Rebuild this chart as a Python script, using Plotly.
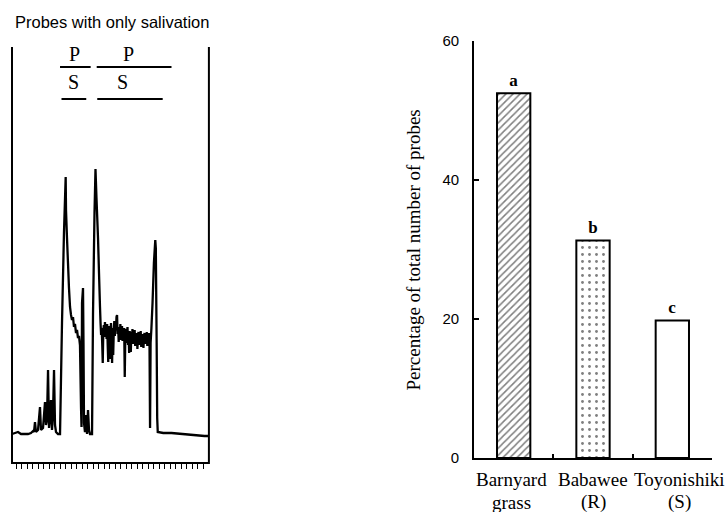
import plotly.graph_objects as go

# ---------------- Left panel: recorded waveform ----------------
# time in s (1 tick = 1 s), signal in arbitrary units (0 = bottom of record)
trace_time = [
    0.00, 0.55, 1.09, 1.64, 2.36, 2.91, 3.45, 3.82, 4.00, 4.18, 4.36, 4.73, 5.09, 5.27,
    5.64, 6.00, 6.18, 6.36, 6.55, 6.73, 6.91, 7.09, 7.27, 7.45, 7.64, 7.82, 8.00, 8.36, 8.73,
    9.09, 9.45, 9.76, 9.82, 10.00, 10.18, 10.36, 10.55, 10.73, 10.91, 11.09, 11.27, 11.45,
    11.64, 11.82, 12.00, 12.18, 12.36, 12.55, 12.64, 12.73, 12.91, 13.00, 13.09, 13.27,
    13.45, 13.64, 13.82, 14.00, 14.18, 14.55,
    14.73, 15.00, 15.18, 15.36, 15.64, 15.82, 16.00,
    16.1, 16.2, 16.3, 16.4, 16.5, 16.6, 16.7, 16.8, 16.9, 17.0,
    17.1, 17.2, 17.3, 17.4, 17.5, 17.6, 17.7, 17.8, 17.9, 18.0,
    18.1, 18.2, 18.3, 18.4, 18.5, 18.6, 18.7, 18.8, 18.9, 19.0,
    19.1, 19.2, 19.3, 19.4, 19.5, 19.6, 19.7, 19.8, 19.9, 20.0,
    20.1, 20.2, 20.3, 20.4, 20.5, 20.6, 20.7, 20.8, 20.9, 21.0,
    21.1, 21.2, 21.3, 21.4, 21.5, 21.6, 21.7, 21.8, 21.9, 22.0,
    22.1, 22.2, 22.3, 22.4, 22.5, 22.6, 22.7, 22.8, 22.9, 23.0,
    23.1, 23.2, 23.3, 23.4, 23.5, 23.6, 23.7, 23.8, 23.9, 24.0,
    24.1, 24.2, 24.3, 24.4, 24.5, 24.6, 24.7, 24.8, 24.9, 25.0,
    25.1, 25.2, 25.35, 25.55, 25.8, 26.05, 26.15, 26.3, 26.4, 26.5,
    27.5, 29.0, 31.0, 33.0, 35.0, 35.8,
]
trace_signal = [
    29, 30, 31, 29, 29, 29, 30, 32, 31, 41, 31, 33, 56, 33,
    35, 61, 38, 43, 93, 35, 45, 63, 33, 48, 93, 38, 31, 29, 29,
    140, 230, 286, 253, 225, 200, 175, 156, 148, 143, 146, 136, 139,
    130, 133, 125, 127, 118, 55, 36, 160, 175, 120, 40, 31,
    48, 29, 53, 33, 29, 29,
    150, 250, 294, 265, 225, 190, 156,
    140, 128, 135, 120, 100, 132, 138, 126, 141, 130,
    136, 124, 139, 118, 101, 128, 137, 104, 129, 140,
    126, 100, 135, 108, 131, 142, 127, 138, 133, 146,
    148, 129, 136, 121, 134, 127, 139, 123, 131, 137,
    122, 133, 128, 135, 86, 126, 134, 120, 130, 136,
    118, 129, 110, 132, 124, 111, 131, 122, 134, 119,
    128, 124, 133, 117, 127, 121, 130, 114, 126, 131,
    118, 128, 122, 132, 116, 127, 121, 129, 115, 126,
    130, 119, 127, 122, 131, 117, 128, 123, 130, 120,
    35, 120, 135, 160, 200, 223, 215, 120, 45, 31,
    30, 30, 29, 28, 27, 27,
]

record_start = 0.0
record_end = 35.8
full_scale = 416
time_ticks = [0.73 + k for k in range(35)]

# phase bars (P = probing, S = salivation)
phase_names = ["P", "P", "S", "S"]
phase_start = [8.73, 15.4, 9.0, 15.5]
phase_end = [14.3, 29.0, 13.5, 27.4]
phase_level = [396, 396, 364, 364]
phase_label_time = [11.45, 21.2, 11.2, 20.1]
phase_label_level = [409, 409, 381, 381]

# ---------------- Right panel: bar chart ----------------
cat_line1 = ["Barnyard", "Babawee", "Toyonishiki"]
cat_line2 = ["grass", "(R)", "(S)"]
percent_probes = [52.5, 31.3, 19.8]
sig_letters = ["a", "b", "c"]
y_ticks = [0, 20, 40, 60]

fig = go.Figure()

# record frame
fig.add_trace(go.Scatter(
    x=[record_start, record_start, record_end, record_end],
    y=[full_scale, 0, 0, full_scale],
    xaxis="x", yaxis="y", mode="lines",
    line=dict(color="black", width=2), hoverinfo="skip"))

fig.add_trace(go.Scatter(
    x=trace_time, y=trace_signal, xaxis="x", yaxis="y", mode="lines",
    line=dict(color="black", width=2.3, simplify=False), hoverinfo="skip"))

for s, e, lv in zip(phase_start, phase_end, phase_level):
    fig.add_shape(type="line", xref="x", yref="y", x0=s, x1=e, y0=lv, y1=lv,
                  line=dict(color="black", width=2))
for nm, t, lv in zip(phase_names, phase_label_time, phase_label_level):
    fig.add_annotation(x=t, y=lv, xref="x", yref="y", text=nm, showarrow=False,
                       font=dict(family="Liberation Serif, Times New Roman, serif",
                                 size=20, color="black"),
                       xanchor="center", yanchor="middle")

fig.add_annotation(x=111.5 / 727, y=(512 - 22) / 512, xref="paper", yref="paper",
                   text="Probes with only salivation", showarrow=False,
                   font=dict(family="Liberation Sans, Arial, sans-serif", size=16.5,
                             color="black"),
                   xanchor="center", yanchor="middle")

# bars
fig.add_trace(go.Bar(
    x=[0, 1, 2], y=percent_probes, xaxis="x2", yaxis="y2", width=0.42,
    text=sig_letters, textposition="outside", cliponaxis=False,
    textfont=dict(family="Liberation Serif, Times New Roman, serif", size=17,
                  color="black", weight="bold"),
    marker=dict(color="white", line=dict(color="black", width=2),
                pattern=dict(shape=["/", ".", ""], fgcolor="black", bgcolor="white",
                             size=[5, 7, 8], solidity=[0.3, 0.13, 0.2])),
    hoverinfo="skip"))

serif = "Liberation Serif, Times New Roman, serif"
xshifts = [-2, 0, 7]
for i in range(3):
    fig.add_annotation(x=i, y=(512 - 479) / 512, xref="x2", yref="paper",
                       text=cat_line1[i], showarrow=False, xshift=xshifts[i],
                       font=dict(family=serif, size=19, color="black"),
                       xanchor="center", yanchor="middle")
    fig.add_annotation(x=i, y=(512 - 502) / 512, xref="x2", yref="paper",
                       text=cat_line2[i], showarrow=False, xshift=xshifts[i],
                       font=dict(family=serif, size=19, color="black"),
                       xanchor="center", yanchor="middle")

fig.add_annotation(x=413 / 727, y=(512 - 250.5) / 512, xref="paper", yref="paper",
                   text="Percentage of total number of probes", showarrow=False,
                   textangle=-90,
                   font=dict(family=serif, size=19, color="black"),
                   xanchor="center", yanchor="middle")

fig.update_layout(
    width=727, height=512, autosize=False,
    margin=dict(l=0, r=0, t=0, b=0, pad=0, autoexpand=False),
    paper_bgcolor="white", plot_bgcolor="white",
    showlegend=False,
    xaxis=dict(domain=[6.5 / 727, 215.5 / 727], range=[-1, 37],
               anchor="free", position=(512 - 463) / 512, automargin=False,
               showline=False, showgrid=False, zeroline=False,
               tickmode="array", tickvals=time_ticks, ticks="outside",
               ticklen=5, tickwidth=1.3, tickcolor="black", showticklabels=False),
    yaxis=dict(domain=[39 / 512, 499 / 512], range=[-10, 450], visible=False,
               automargin=False),
    xaxis2=dict(domain=[474 / 727, 712 / 727], range=[-0.5, 2.5], anchor="y2",
                automargin=False,
                showline=True, linecolor="black", linewidth=1.8,
                showgrid=False, zeroline=False,
                tickmode="array", tickvals=[0.5, 1.5, 2.5], ticks="inside",
                ticklen=4, tickwidth=1.5, tickcolor="black", showticklabels=False),
    yaxis2=dict(domain=[54 / 512, 471 / 512], range=[0, 60], anchor="x2",
                automargin=False,
                showline=True, linecolor="black", linewidth=1.8,
                showgrid=False, zeroline=False,
                tickmode="array", tickvals=y_ticks, ticks="inside",
                ticklen=5, tickwidth=1.5, tickcolor="black",
                ticklabelstandoff=10,
                tickfont=dict(family="Liberation Sans, Arial, sans-serif", size=15,
                              color="black")),
)

fig.write_html(
    "out.html",
    config={"displayModeBar": False},
    post_script="document.body.style.margin='0';document.body.style.overflow='hidden';",
)
